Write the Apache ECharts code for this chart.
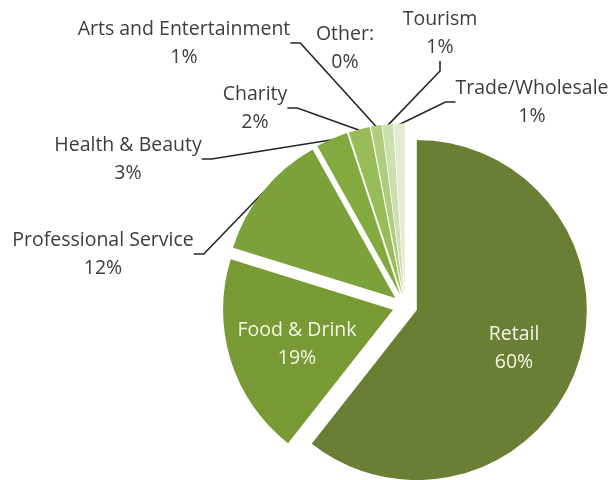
<!DOCTYPE html>
<html>
<head>
<meta charset="utf-8">
<script src="https://cdn.jsdelivr.net/npm/echarts@6/dist/echarts.min.js"></script>
<style>
  html, body { margin: 0; padding: 0; background: #ffffff; }
  #chart { width: 616px; height: 480px; }
</style>
</head>
<body>
<div id="chart"></div>
<script>
// Business sectors, in clockwise order from 12 o'clock
const categories = [
  'Retail', 'Food & Drink', 'Professional Service', 'Health & Beauty',
  'Charity', 'Arts and Entertainment', 'Other:', 'Tourism', 'Trade/Wholesale'
];
// Share of each sector, in percent
const shares = [60, 19, 12, 3, 2, 1, 0, 1, 1];

// Slice fills, dark olive for the big sectors fading to pale green
const sliceColors = [
  '#6b7f34', '#779a35', '#7ca13b', '#82aa3e', '#98bc58',
  '#b0cc7f', '#c2d89c', '#cddfae', '#e2ebcf'
];
// Label block centres (x, y) in pixels
const labelCentres = [
  [514, 348], [297, 344], [103, 254], [128, 159], [255, 108],
  [184, 43], [345, 48], [440, 33], [532, 102]
];
// Sectors whose labels sit inside the slice
const insideLabels = ['Retail', 'Food & Drink'];
const noLineLabels = ['Retail', 'Food & Drink', 'Other:'];

const PIE_CENTER = [405, 306];
const PIE_RADIUS = 170;
const EXPLODE = 12.5;

const chart = echarts.init(document.getElementById('chart'), null, { renderer: 'canvas' });

// Exploded slices: every slice is pulled out from the centre
const sliceData = categories.map((name, i) => ({
  name: name,
  value: shares[i],
  selected: true,
  itemStyle: { color: sliceColors[i] }
}));

// Label layer sharing the same values; its sectors are unfilled and sit on
// the outer rim of the pulled-out slices so the leader lines reach them
const labelData = categories.map((name, i) => {
  const inside = insideLabels.includes(name);
  return {
    name: name,
    value: shares[i],
    label: inside ? { color: '#f3f7e6' } : {},
    labelLine: { show: !noLineLabels.includes(name) }
  };
});

chart.setOption({
  backgroundColor: '#ffffff',
  animation: false,
  series: [{
    type: 'pie',
    center: PIE_CENTER,
    radius: [0, PIE_RADIUS],
    startAngle: 90,
    clockwise: true,
    selectedMode: 'multiple',
    selectedOffset: EXPLODE,
    itemStyle: { borderWidth: 0 },
    select: { itemStyle: { borderWidth: 0 } },
    emphasis: { disabled: true },
    label: { show: false },
    labelLine: { show: false },
    data: sliceData
  }, {
    type: 'pie',
    silent: true,
    center: PIE_CENTER,
    radius: [0, PIE_RADIUS + EXPLODE - 1],
    startAngle: 90,
    clockwise: true,
    selectedMode: false,
    avoidLabelOverlap: false,
    itemStyle: { color: 'rgba(0,0,0,0)', borderWidth: 0 },
    emphasis: { disabled: true },
    label: {
      show: true,
      position: 'outside',
      formatter: '{b}\n{c}%',
      fontFamily: 'Open Sans',
      fontSize: 19.5,
      lineHeight: 28,
      color: '#3d3d3d',
      align: 'center'
    },
    labelLine: {
      show: true,
      length: 10,
      length2: 10,
      lineStyle: { color: '#262626', width: 1.6 }
    },
    labelLayout: function (params) {
      const c = labelCentres[params.dataIndex];
      return { x: c[0], y: c[1], align: 'center', verticalAlign: 'middle' };
    },
    data: labelData
  }]
});
</script>
</body>
</html>
